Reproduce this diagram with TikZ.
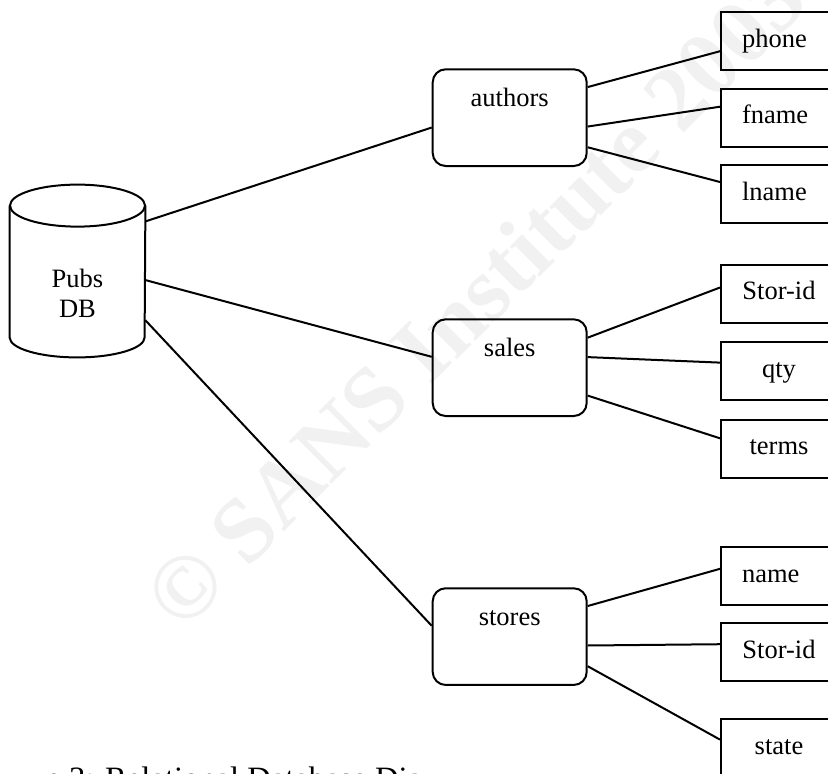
\documentclass[tikz,border=0pt]{standalone}
\usepackage{fontspec}
\setmainfont{Liberation Serif}
\usetikzlibrary{calc}
\definecolor{wmgray}{gray}{0.945}
\tikzset{
  entity/.style={draw,line width=1pt,rounded corners=6.5pt,minimum width=77pt,
    text height=9.25pt,text depth=20.2pt,inner ysep=9.45pt,
    font=\fontsize{13.25pt}{15pt}\selectfont},
  field/.style={draw,line width=1pt,anchor=west,minimum height=29pt,text width=37pt,
    inner xsep=10.5pt,inner ysep=0pt,align=center,text height=9.3pt,text depth=3.3pt,
    font=\fontsize{13.25pt}{15pt}\selectfont},
  dbbody/.style={minimum width=67.5pt,minimum height=65.5pt,inner sep=0pt},
  dblabel/.style={align=center,inner sep=0pt,font=\fontsize{13.25pt}{15pt}\selectfont},
  link/.style={line width=1pt},
  caption/.style={anchor=base west,inner sep=0pt,font=\fontsize{16.3pt}{19pt}\selectfont},
  watermark/.style={text=wmgray,inner sep=0pt,font=\fontsize{46pt}{50pt}\selectfont\bfseries}
}
\begin{document}
\begin{tikzpicture}[x=0.5pt,y=-0.5pt]
  \useasboundingbox (0,0) rectangle (828,773);
  \clip (0,0) rectangle (828,773);
  % watermark behind everything
  \node[watermark,rotate=45,anchor=west] (wm) at (160,612) {© SANS Institute 2003};
  % database
  \node[dbbody] (db) at (77.5,271.5) {};
  \draw[link] (db.north west) -- (db.south west)
    arc[start angle=180,end angle=0,x radius=67.5,y radius=20] -- (db.north east);
  \draw[link] (db.north) ellipse[x radius=67.5,y radius=21];
  \node[dblabel] (dbname) at ($(db.center)+(0,21.5)$) {Pubs\\DB};
  % tables
  \node[entity] (authors) at (509.7,117.65) {authors};
  \node[entity] (sales) at (509.7,367.65) {sales};
  \node[entity] (stores) at (509.7,636.6) {stores};
  % columns
  \node[field,align=left] (aphone) at (720,41) {phone};
  \node[field,align=left] (afname) at (720,117.5) {fname};
  \node[field,align=left] (alname) at (720,194) {lname};
  \node[field] (sstor) at (720,293.5) {Stor-id};
  \node[field] (sqty) at (720,371) {qty};
  \node[field] (sterms) at (720,448.5) {terms};
  \node[field,align=left] (tname) at (720,576) {name};
  \node[field] (tstor) at (720,652) {Stor-id};
  \node[field] (tstate) at (720,748) {state};
  % db to tables
  \draw[link] ($(db.north east)!.12!(db.south east)$) -- ($(authors.north west)!.6!(authors.south west)$);
  \draw[link] ($(db.north east)!.565!(db.south east)$) -- ($(sales.north west)!.39!(sales.south west)$);
  \draw[link] ($(db.north east)!.87!(db.south east)$) -- ($(stores.north west)!.39!(stores.south west)$);
  % tables to columns
  \draw[link] ($(authors.north east)!.19!(authors.south east)$) -- ($(aphone.north west)!.67!(aphone.south west)$);
  \draw[link] ($(authors.north east)!.59!(authors.south east)$) -- ($(afname.north west)!.32!(afname.south west)$);
  \draw[link] ($(authors.north east)!.8!(authors.south east)$) -- ($(alname.north west)!.3!(alname.south west)$);
  \draw[link] ($(sales.north east)!.196!(sales.south east)$) -- ($(sstor.north west)!.4!(sstor.south west)$);
  \draw[link] ($(sales.north east)!.393!(sales.south east)$) -- ($(sqty.north west)!.36!(sqty.south west)$);
  \draw[link] ($(sales.north east)!.783!(sales.south east)$) -- ($(sterms.north west)!.33!(sterms.south west)$);
  \draw[link] ($(stores.north east)!.19!(stores.south east)$) -- ($(tname.north west)!.38!(tname.south west)$);
  \draw[link] ($(stores.north east)!.59!(stores.south east)$) -- ($(tstor.north west)!.37!(tstor.south west)$);
  \draw[link] ($(stores.north east)!.8!(stores.south east)$) -- ($(tstate.north west)!.36!(tstate.south west)$);
  % caption, cut by the frame
  \node[caption] (cap) at (46,789.6) {e 3: Relational Database Dia};
\end{tikzpicture}
\end{document}
